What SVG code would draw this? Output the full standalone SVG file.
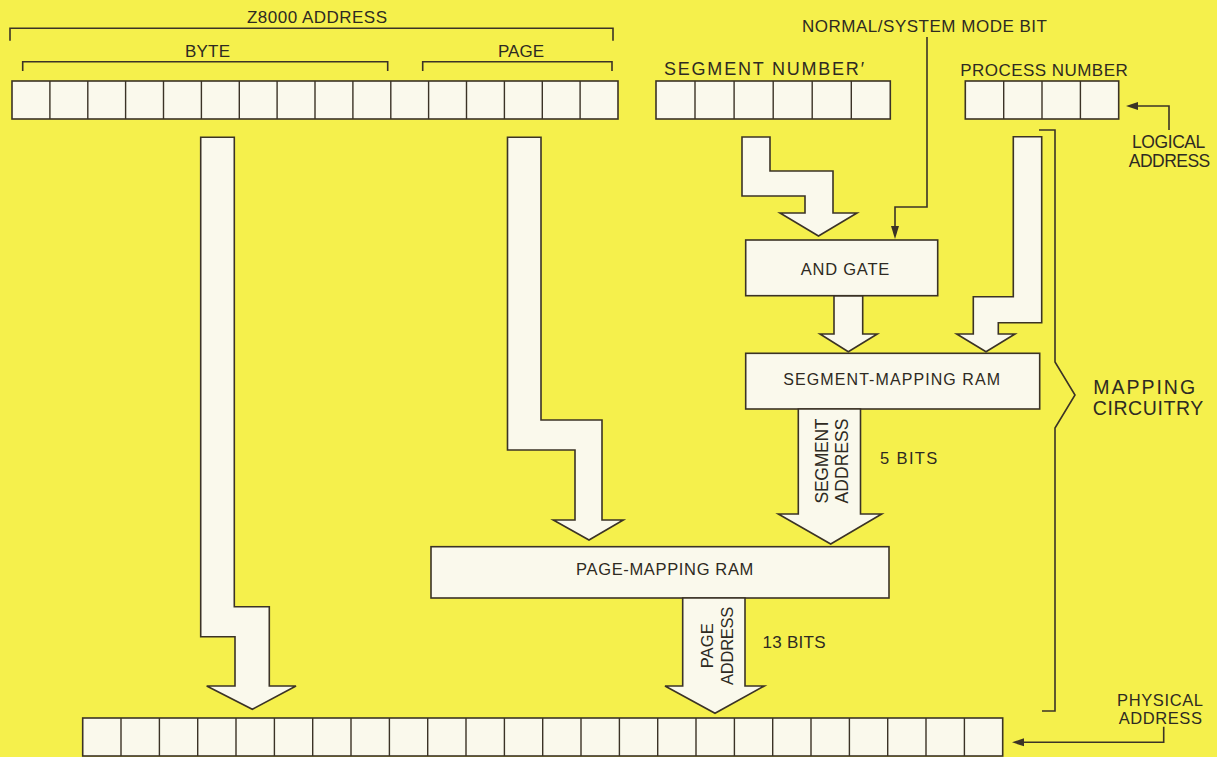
<svg xmlns="http://www.w3.org/2000/svg" width="1217" height="757" viewBox="0 0 1217 757">
<defs>
<style>
.bg{fill:#F5F04C}
.box{fill:#FAF9EC;stroke:#3b3326;stroke-width:1.6}
.arw{fill:#FAF9EC;stroke:#3b3326;stroke-width:1.6;stroke-linejoin:miter}
.ln{fill:none;stroke:#3b3326;stroke-width:1.6}
.cell{stroke:#3b3326;stroke-width:1.4}
.hd{fill:#3b3326}
text{font-family:"Liberation Sans",Arial,Helvetica,sans-serif;fill:#2e2a22}
</style>
</defs>
<rect class="bg" x="0" y="0" width="1217" height="757"/>

<g id="labels-top">
<text x="317" y="23.3" font-size="17" text-anchor="middle" textLength="140" lengthAdjust="spacing">Z8000 ADDRESS</text>
<path class="ln" d="M10,40.7 V28.3 H613 V40.7"/>
<text x="207.5" y="56.7" font-size="17" text-anchor="middle" textLength="45" lengthAdjust="spacing">BYTE</text>
<path class="ln" d="M22.7,71 V61.7 H387.7 V71"/>
<text x="521" y="57" font-size="17" text-anchor="middle" textLength="46" lengthAdjust="spacing">PAGE</text>
<path class="ln" d="M422.7,71 V61.7 H612 V71"/>
</g>

<g id="z8000-register">
<rect class="box" x="12" y="81" width="606" height="38"/>
<path class="cell" d="M49.9,81V119M87.8,81V119M125.6,81V119M163.5,81V119M201.4,81V119M239.3,81V119M277.1,81V119M315,81V119M352.9,81V119M390.8,81V119M428.6,81V119M466.5,81V119M504.4,81V119M542.3,81V119M580.1,81V119"/>
</g>

<g id="segment-number">
<text x="664" y="75" font-size="18" textLength="200" lengthAdjust="spacing">SEGMENT NUMBER′</text>
<rect class="box" x="656" y="81" width="234.3" height="38"/>
<path class="cell" d="M695,81V119M734.1,81V119M773.2,81V119M812.2,81V119M851.3,81V119"/>
</g>

<g id="process-number">
<text x="960.3" y="76" font-size="17" textLength="167.4" lengthAdjust="spacing">PROCESS NUMBER</text>
<rect class="box" x="965.3" y="81" width="153.4" height="38"/>
<path class="cell" d="M1003.7,81V119M1042,81V119M1080.4,81V119"/>
</g>

<g id="mode-bit">
<text x="924.5" y="32.3" font-size="17" text-anchor="middle" textLength="245" lengthAdjust="spacing">NORMAL/SYSTEM MODE BIT</text>
</g>

<g id="logical-address">
<text x="1168.7" y="148.3" font-size="17.5" text-anchor="middle" textLength="73.3" lengthAdjust="spacing">LOGICAL</text>
<text x="1169.5" y="166.7" font-size="17.5" text-anchor="middle" textLength="81.6" lengthAdjust="spacing">ADDRESS</text>
</g>

<g id="and-gate">
<rect class="box" x="745.7" y="240" width="192" height="55.7"/>
<text x="845" y="275" font-size="16.5" text-anchor="middle" textLength="88.6" lengthAdjust="spacing">AND GATE</text>
</g>

<g id="segment-mapping-ram">
<rect class="box" x="745.7" y="353.3" width="294" height="55.7"/>
<text x="891.7" y="385" font-size="16" text-anchor="middle" textLength="216.7" lengthAdjust="spacing">SEGMENT-MAPPING RAM</text>
</g>

<g id="page-mapping-ram">
<rect class="box" x="431" y="546.7" width="458" height="51.3"/>
<text x="664.7" y="575" font-size="16.5" text-anchor="middle" textLength="177.3" lengthAdjust="spacing">PAGE-MAPPING RAM</text>
</g>

<g id="mapping-circuitry">
<path class="ln" d="M1039,130 H1055 V362 L1075,395 L1055,428 V711 H1042"/>
<text x="1144.2" y="393.5" font-size="19.5" text-anchor="middle" textLength="101.7" lengthAdjust="spacing">MAPPING</text>
<text x="1148" y="415" font-size="19.5" text-anchor="middle" textLength="110.6" lengthAdjust="spacing">CIRCUITRY</text>
</g>

<g id="physical-register">
<rect class="box" x="82.7" y="718" width="920" height="38"/>
<path class="cell" d="M121,718V756M159.4,718V756M197.7,718V756M236,718V756M274.4,718V756M312.7,718V756M351,718V756M389.4,718V756M427.7,718V756M466,718V756M504.4,718V756M542.7,718V756M581,718V756M619.4,718V756M657.7,718V756M696,718V756M734.4,718V756M772.7,718V756M811,718V756M849.4,718V756M887.7,718V756M926,718V756M964.4,718V756"/>
</g>

<g id="physical-address">
<text x="1160" y="705.7" font-size="16.5" text-anchor="middle" textLength="86" lengthAdjust="spacing">PHYSICAL</text>
<text x="1160.3" y="724" font-size="16.5" text-anchor="middle" textLength="83.3" lengthAdjust="spacing">ADDRESS</text>
</g>

<g id="connectors">
<polygon class="arw" points="200.7,137.3 234.3,137.3 234.3,606.7 269.3,606.7 269.3,686 296,686 252.3,709.3 206.7,686 235,686 235,636.7 200.7,636.7"/>
<polygon class="arw" points="507.5,137.3 541,137.3 541,420 602,420 602,520 623.3,520 589,540 553.3,520 575,520 575,450 507.5,450"/>
<polygon class="arw" points="742,137 770,137 770,171 833,171 833,213 857,213 818.5,236 780,213 805,213 805,196 742,196"/>
<polygon class="arw" points="834,296 862.7,296 862.7,334 877.3,334 848.3,351.7 820,334 834,334"/>
<polygon class="arw" points="1013.3,136.7 1041.7,136.7 1041.7,322.7 998.3,322.7 998.3,334 1015,334 986,351.7 956.7,334 973.3,334 973.3,296.7 1013.3,296.7"/>
<polygon class="arw" points="798.3,409 860.5,409 860.5,514 881.7,514 830.7,544 778.3,514 798.3,514"/>
<polygon class="arw" points="682.7,598 745,598 745,686 764.3,686 715,713.3 665,686 682.7,686"/>
<path class="ln" d="M927,37 V207 H895 V228"/>
<polygon class="hd" points="891,226 899,226 895,239"/>
<path class="ln" d="M1169,130 V106 H1136"/>
<polygon class="hd" points="1126,106 1138,102 1138,110"/>
<path class="ln" d="M1163.7,726.7 V742.3 H1022"/>
<polygon class="hd" points="1012,742.3 1024,738.3 1024,746.3"/>
<text transform="translate(828.3,461) rotate(-90)" font-size="17.5" text-anchor="middle" textLength="85" lengthAdjust="spacing">SEGMENT</text>
<text transform="translate(848.3,461) rotate(-90)" font-size="17.5" text-anchor="middle" textLength="85" lengthAdjust="spacing">ADDRESS</text>
<text x="880" y="464" font-size="16.5" textLength="57.3" lengthAdjust="spacing">5  BITS</text>
<text transform="translate(713.3,645.8) rotate(-90)" font-size="16.5" text-anchor="middle" textLength="45" lengthAdjust="spacing">PAGE</text>
<text transform="translate(733.3,645.8) rotate(-90)" font-size="16.5" text-anchor="middle" textLength="78.3" lengthAdjust="spacing">ADDRESS</text>
<text x="762.5" y="647.7" font-size="17" textLength="63" lengthAdjust="spacing">13 BITS</text>
</g>
</svg>
